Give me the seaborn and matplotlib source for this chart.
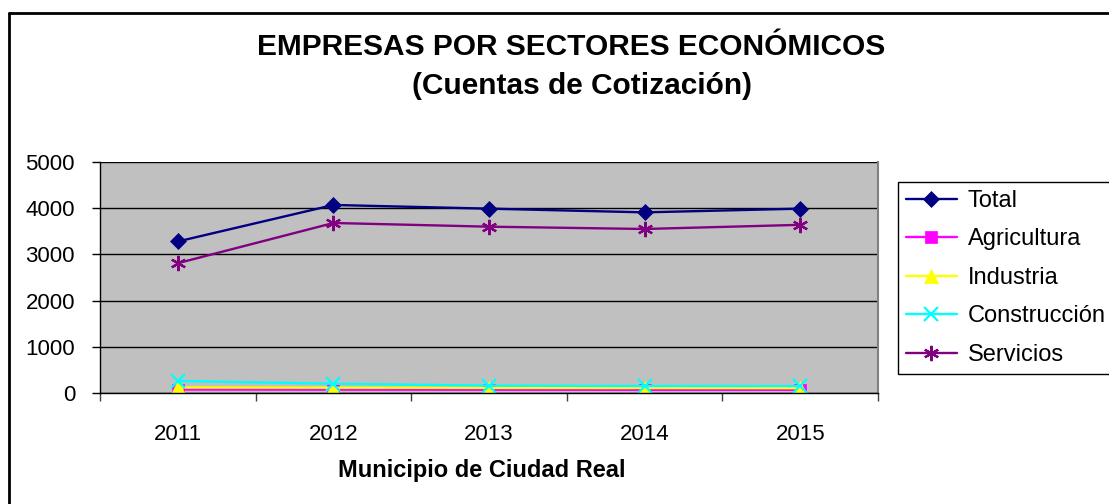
import pandas as pd
import matplotlib.pyplot as plt
import matplotlib.lines as mlines
import matplotlib.ticker as mticker
import seaborn as sns

# Data
years = [2011, 2012, 2013, 2014, 2015]
total = [3280, 4070, 3990, 3910, 3990]
agricultura = [75, 72, 70, 68, 68]
industria = [120, 115, 110, 108, 105]
construccion = [260, 200, 160, 150, 150]
servicios = [2810, 3680, 3600, 3550, 3640]

sectors = ["Total", "Agricultura", "Industria", "Construcción", "Servicios"]
colors = ["#000080", "#FF00FF", "#FFFF00", "#00FFFF", "#800080"]
markers = ["D", "s", "^", "x", (6, 2, 0)]
sizes = [8, 8, 10, 10, 11]


def main():
    sns.set_style("white")
    plt.rcParams["font.family"] = ["Liberation Sans", "DejaVu Sans"]
    plt.rcParams["text.color"] = "black"
    plt.rcParams["xtick.color"] = "black"
    plt.rcParams["ytick.color"] = "black"

    df = pd.DataFrame({
        "year": years * 5,
        "value": total + agricultura + industria + construccion + servicios,
        "sector": [s for s in sectors for _ in years],
    })

    W, H = 1109, 504
    fig = plt.figure(figsize=(W / 100, H / 100), dpi=100)
    ax = fig.add_axes([100 / W, 1 - 393 / H, 778 / W, 231 / H])
    ax.set_facecolor("#C0C0C0")

    # draw series one at a time to get per-series marker sizes
    for s, c, m, ms in zip(sectors, colors, markers, sizes):
        sns.lineplot(data=df[df["sector"] == s], x="year", y="value", ax=ax,
                     color=c, marker=m, markersize=ms, linewidth=1.7,
                     markeredgecolor=c, markeredgewidth=1.6 if m in ("x", (6, 2, 0)) else 0.5,
                     label=s, legend=True)

    ax.set_xlim(2010.5, 2015.5)
    ax.set_ylim(0, 5000)
    ax.set_yticks([0, 1000, 2000, 3000, 4000, 5000])
    ax.yaxis.grid(True, color="black", linewidth=1)
    ax.set_axisbelow(True)

    # category boundaries as ticks, labels centred in between
    ax.xaxis.set_major_locator(mticker.FixedLocator([2010.5 + i for i in range(6)]))
    ax.xaxis.set_major_formatter(mticker.NullFormatter())
    ax.xaxis.set_minor_locator(mticker.FixedLocator(years))
    ax.xaxis.set_minor_formatter(mticker.FixedFormatter([str(y) for y in years]))
    ax.tick_params(axis="x", which="major", direction="out", length=6, width=1, color="#404040", bottom=True)
    ax.tick_params(axis="x", which="minor", length=0, labelsize=16, pad=22, bottom=True)
    ax.tick_params(axis="y", direction="out", length=6, width=1, color="black", labelsize=16, pad=12, left=True)

    ax.set_xlabel("")
    ax.set_ylabel("")
    for side in ["left", "bottom"]:
        ax.spines[side].set_color("black")
        ax.spines[side].set_linewidth(1)
    ax.spines["right"].set_color("#808080")
    ax.spines["right"].set_linewidth(1.5)
    ax.spines["top"].set_visible(False)

    fig.text(571 / W, 1 - 47 / H, "EMPRESAS POR SECTORES ECONÓMICOS",
             ha="center", va="center", fontsize=21.5, fontweight="bold")
    fig.text(582 / W, 1 - 86 / H, "(Cuentas de Cotización)",
             ha="center", va="center", fontsize=21.5, fontweight="bold")
    fig.text(482 / W, 1 - 470 / H, "Municipio de Ciudad Real",
             ha="center", va="center", fontsize=17, fontweight="bold")

    leg = ax.legend(loc="upper left", bbox_to_anchor=(898 / W, 1 - 182 / H),
                    bbox_transform=fig.transFigure, borderaxespad=0,
                    fontsize=17, frameon=True, fancybox=False, edgecolor="black",
                    handlelength=2.15, handletextpad=0.47, labelspacing=0.7,
                    borderpad=0.33, framealpha=1)
    leg.get_frame().set_linewidth(1)

    # outer chart-area border (only left and top visible in the crop)
    top = 1 - 13 / H
    left = 8.5 / W
    fig.add_artist(mlines.Line2D([left, 1.0], [top, top], transform=fig.transFigure,
                                 color="black", linewidth=2))
    fig.add_artist(mlines.Line2D([left, left], [0.0, top], transform=fig.transFigure,
                                 color="black", linewidth=2))

    fig.savefig("out.png", dpi=100)


if __name__ == "__main__":
    main()
